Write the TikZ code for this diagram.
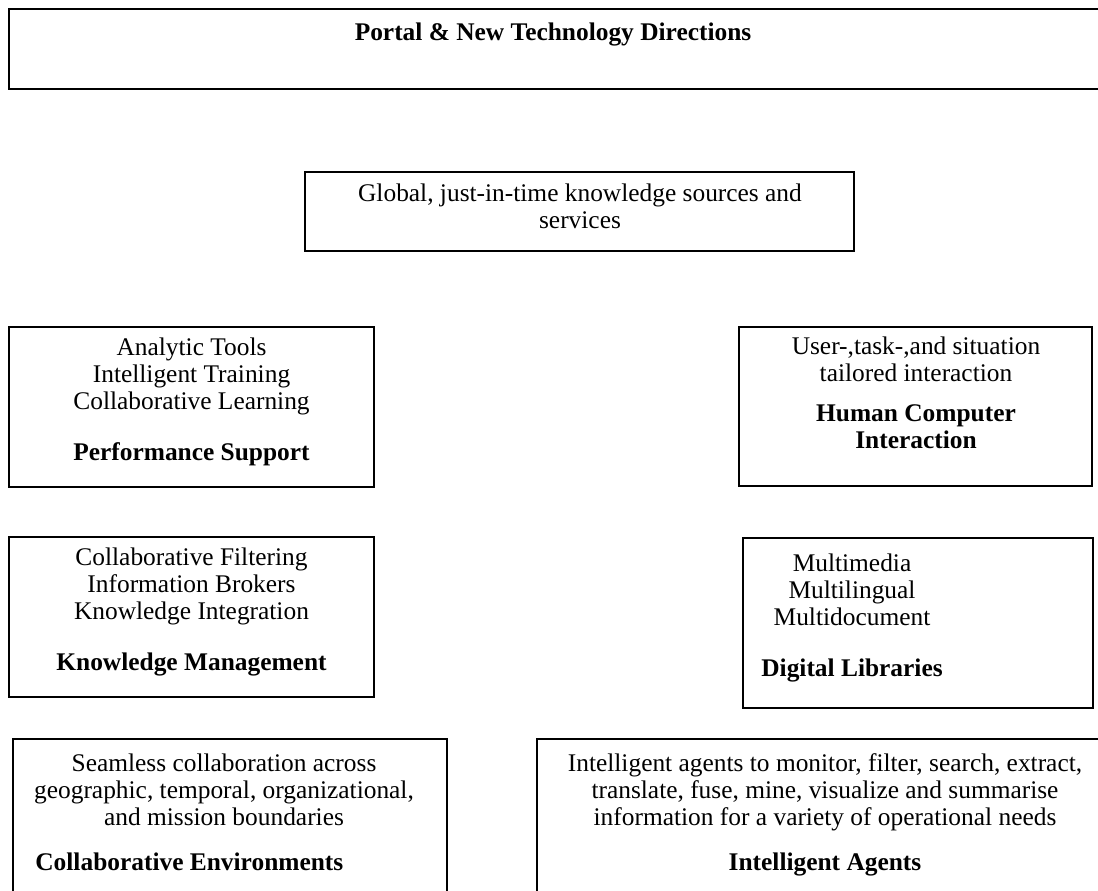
\documentclass[tikz,border=0pt]{standalone}
\usepackage{fontspec}
\setmainfont{Liberation Serif}
\usetikzlibrary{fit}
\begin{document}
\begin{tikzpicture}[x=0.5pt,y=-0.5pt,
  panel/.style={draw=black, line width=0.8pt, inner sep=0pt, outer sep=0pt, rectangle},
  body/.style={font=\fontsize{12.7}{13.5}\selectfont, align=center, inner sep=0pt, anchor=north},
  head/.style={font=\fontsize{12.7}{13.5}\selectfont\bfseries, inner sep=0pt},
]
\useasboundingbox (0,0) rectangle (1098,890);
\clip (0,0) rectangle (1098,890);

% frames
\node[panel, fit={(9,9) (1130,89)}] (portal) {};
\node[panel, fit={(305,172) (854,251)}] (global) {};
\node[panel, fit={(9,327) (374,487)}] (perf) {};
\node[panel, fit={(739,327) (1092,486)}] (hci) {};
\node[panel, fit={(9,537) (374,697)}] (km) {};
\node[panel, fit={(743,538) (1093,708)}] (dl) {};
\node[panel, fit={(13,739) (447,930)}] (collab) {};
\node[panel, fit={(537,739) (1130,930)}] (agents) {};

% texts
\node[body, head, anchor=north] (portaltxt) at (553,22) {Portal \& New Technology Directions};
\node[body] (globaltxt) at (580,183) {Global, just-in-time knowledge sources and\\services};
\node[body] (perftxt) at (191.5,337) {Analytic Tools\\Intelligent Training\\Collaborative Learning\\[12pt]\textbf{Performance Support}};
\node[body] (hcitxt) at (916,336) {User-,task-,and situation\\tailored interaction\\[6.5pt]\textbf{Human Computer}\\\textbf{Interaction}};
\node[body] (kmtxt) at (191.5,547) {Collaborative Filtering\\Information Brokers\\Knowledge Integration\\[12pt]\textbf{Knowledge Management}};
\node[body] (dltxt) at (852,553) {Multimedia\\Multilingual\\Multidocument\\[12pt]\textbf{Digital Libraries}};
\node[body] (collabtxt) at (224,753) {Seamless collaboration across\\geographic, temporal, organizational,\\and mission boundaries};
\node[head, anchor=base west] (collabhead) at (35,870) {Collaborative Environments};
\node[body] (agentstxt) at (825,753) {Intelligent agents to monitor, filter, search, extract,\\translate, fuse, mine, visualize and summarise\\information for a variety of operational needs};
\node[head, anchor=base] (agentshead) at (825,870) {Intelligent Agents};
\end{tikzpicture}
\end{document}
